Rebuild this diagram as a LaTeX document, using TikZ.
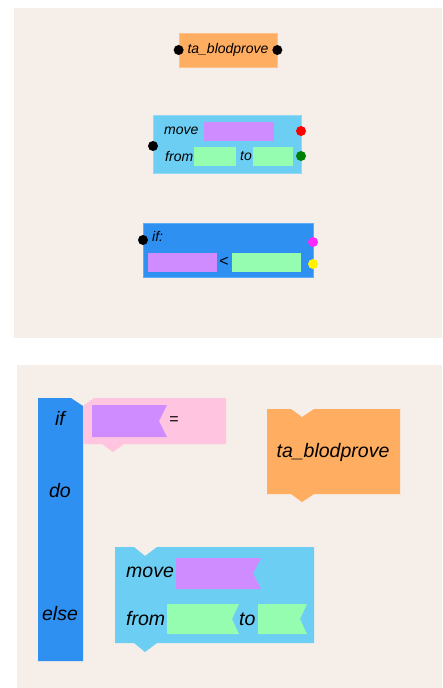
\documentclass[tikz,border=0pt]{standalone}
\usepackage{fontspec}
\setmainfont{Liberation Sans}
\usepackage{xcolor}
\definecolor{fundo}{RGB}{246,238,232}
\definecolor{laranja}{RGB}{255,173,96}
\definecolor{celeste}{RGB}{108,206,243}
\definecolor{azul}{RGB}{46,144,240}
\definecolor{roxo}{RGB}{207,140,255}
\definecolor{verde}{RGB}{148,253,176}
\definecolor{rosa}{RGB}{255,196,223}
\definecolor{lilas}{RGB}{255,40,255}
\usetikzlibrary{positioning}

\begin{document}
\begin{tikzpicture}[
    x=1pt, y=-1pt,
    block/.style={draw=#1!75!white, fill=#1, line width=0.7pt, inner sep=0pt},
    slot/.style={fill=#1, inner sep=0pt},
    pin/.style={circle, fill=#1, inner sep=0pt, minimum size=10pt},
    small/.style={font=\fontsize{14}{16}\selectfont\itshape, inner sep=0pt},
    big/.style={font=\fontsize{19.5}{22}\selectfont\itshape, inner sep=0pt},
    sign/.style={font=\fontsize{16}{18}\selectfont, inner sep=0pt}
  ]
  \useasboundingbox (0,0) rectangle (442,688);
  \fill[white] (0,0) rectangle (442,688);
  \fill[fundo] (14,8) rectangle (442,338);
  \fill[fundo] (17,365) rectangle (442,688);

  % Upper panel: variable block
  \node[block=laranja, small, minimum width=98pt, minimum height=34pt]
    (var) at (228,50) {ta\_blodprove};
  \node[pin=black] (varin) at (var.west) {};
  \node[pin=black] (varout) at (var.east) {};

  % Upper panel: move block
  \node[block=celeste, minimum width=148pt, minimum height=58pt] (mov) at (227,144) {};
  \node[small, anchor=west] (movkw) at (164,131) {move};
  \node[slot=roxo, minimum width=70pt, minimum height=19pt, anchor=west] (movarg) at (204,131.5) {};
  \node[small, anchor=west] (fromkw) at (165,156) {from};
  \node[slot=verde, minimum width=42pt, minimum height=19pt, anchor=west] (fromarg) at (194,156.5) {};
  \node[small, anchor=west] (tokw) at (240,156) {to};
  \node[slot=verde, minimum width=40pt, minimum height=19pt, anchor=west] (toarg) at (253,156.5) {};
  \node[pin=black] (movin) at (153,146) {};
  \node[pin=red] (movout1) at (301,131) {};
  \node[pin={green!50!black}] (movout2) at (301,156) {};

  % Upper panel: if block
  \node[block=azul, minimum width=170pt, minimum height=54pt] (cond) at (228,250) {};
  \node[small, anchor=west] (ifkw) at (152,236) {if:};
  \node[slot=roxo, minimum width=69pt, minimum height=19pt, anchor=west] (lhs) at (148,262.5) {};
  \node[sign] (less) at (224,262) {<};
  \node[slot=verde, minimum width=69pt, minimum height=19pt, anchor=west] (rhs) at (232,262.5) {};
  \node[pin=black] (condin) at (143,240) {};
  \node[pin=lilas] (condout1) at (313,242) {};
  \node[pin=yellow] (condout2) at (313,264) {};

  % Lower panel: if / do / else column
  \fill[azul] (38,398) -- (71,398) -- (83,406) -- (83,661) -- (38,661) -- cycle;
  \fill[azul] (83,418) rectangle (89,424);
  \node[big] (ifw) at (60,418) {if};
  \node[big] (dow) at (60,491) {do};
  \node[big] (elsew) at (60,614) {else};

  % Lower panel: comparison block
  \fill[rosa] (94,398) -- (226,398) -- (226,444) -- (124,444) -- (113,452)
    -- (102,444) -- (83,444) -- (83,406) -- cycle;
  \fill[roxo] (92,405) -- (167,405) -- (159,421) -- (167,437) -- (92,437) -- cycle;
  \node[sign] (eq) at (174,421) {=};

  % Lower panel: variable block
  \fill[laranja] (267,409) -- (291,409) -- (302,417) -- (314,409) -- (400,409)
    -- (400,494) -- (314,494) -- (302,502) -- (291,494) -- (267,494) -- cycle;
  \node[big] (varb) at (333,452) {ta\_blodprove};

  % Lower panel: move block
  \fill[celeste] (115,547) -- (134,547) -- (145,556) -- (157,547) -- (314,547)
    -- (314,643) -- (157,643) -- (145,652) -- (134,643) -- (115,643) -- cycle;
  \foreach \xa/\xb/\xn/\ya/\yb/\col in {176/261/253/558/589/roxo,
      167/239/232/604/634/verde, 258/307/300/604/634/verde} {
    \fill[\col] (\xa,\ya) -- (\xb,\ya) -- (\xn,{(\ya+\yb)/2}) -- (\xb,\yb) -- (\xa,\yb) -- cycle;
  }
  \node[big, anchor=west] (movb) at (126,572) {move};
  \node[big, anchor=west] (fromb) at (126,619) {from};
  \node[big, anchor=west] (tob) at (239,619) {to};
\end{tikzpicture}
\end{document}
